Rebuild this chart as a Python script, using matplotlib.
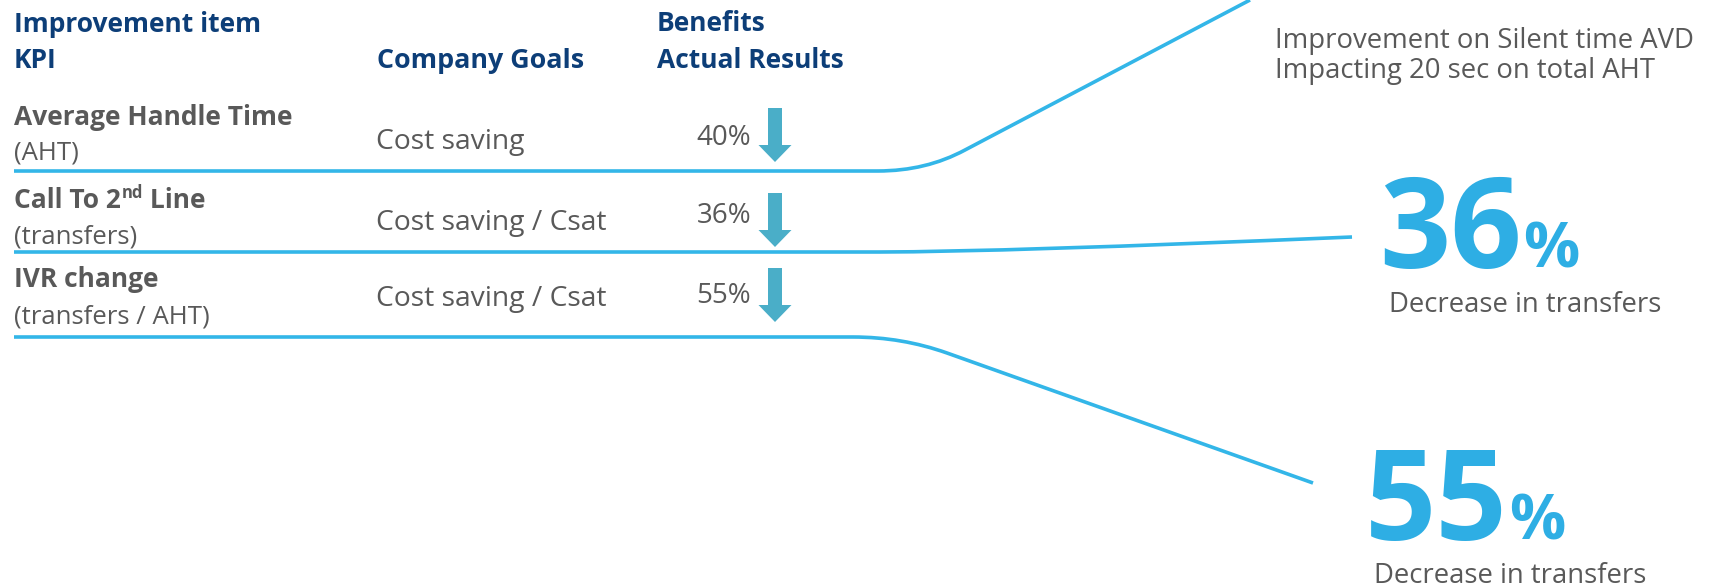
import numpy as np
import matplotlib
matplotlib.use("Agg")
import matplotlib.pyplot as plt
from matplotlib.path import Path
from matplotlib.patches import PathPatch
from matplotlib import font_manager

# ---- data ----
header_kpi = ["Improvement item", "KPI"]
header_goal = "Company Goals"
header_res = ["Benefits", "Actual Results"]
kpi_names = ["Average Handle Time", "Call To 2nd Line", "IVR change"]
kpi_sub = ["(AHT)", "(transfers)", "(transfers / AHT)"]
goals = ["Cost saving", "Cost saving / Csat", "Cost saving / Csat"]
results = [40, 36, 55]
note_lines = ["Improvement on Silent time AVD", "Impacting 20 sec on total AHT"]
big_values = [36, 55]
big_labels = ["Decrease in transfers", "Decrease in transfers"]

# fonts
names = set(f.name for f in font_manager.fontManager.ttflist)
if "Liberation Sans Narrow" in names:
    FONT = "Liberation Sans Narrow"
else:
    FONT = "Open Sans"
plt.rcParams['font.family'] = [FONT, 'DejaVu Sans']

DARK = "#0d3e78"
GRAY = "#595959"
LINE = "#33b6e8"
ARROW = "#4aaec8"
BIG = "#2eaee4"

fig = plt.figure(figsize=(17.2, 5.88), dpi=100)
ax = fig.add_axes([0, 0, 1, 1])
ax.set_xlim(0, 1720)
ax.set_ylim(588, 0)
ax.axis("off")
r = fig.canvas.get_renderer()

# headers
ax.text(14, 32, header_kpi[0], color=DARK, fontsize=19, fontweight="bold", va="baseline")
ax.text(14, 68, header_kpi[1], color=DARK, fontsize=19, fontweight="bold", va="baseline")
ax.text(377, 68, header_goal, color=DARK, fontsize=19.4, fontweight="bold", va="baseline")
ax.text(657, 31, header_res[0], color=DARK, fontsize=19, fontweight="bold", va="baseline")
ax.text(657, 68, header_res[1], color=DARK, fontsize=19, fontweight="bold", va="baseline")

# rows
name_base = [125, 208, 287]
sub_base = [159, 243, 323]
goal_base = [149, 230, 306]
res_base = [145, 223, 303]
arrow_top = [108, 193, 268]
line_y = [171, 252, 337]

for i in range(3):
    nm = kpi_names[i]
    if "2nd" in nm:
        a, b = nm.split("nd", 1)
        t = ax.text(14, name_base[i], a, color=GRAY, fontsize=19, fontweight="bold", va="baseline")
        x1 = t.get_window_extent(r).x1
        t2 = ax.text(x1 + 1, name_base[i] - 10, "nd", color=GRAY, fontsize=12, fontweight="bold", va="baseline")
        x2 = t2.get_window_extent(r).x1
        ax.text(x2, name_base[i], b, color=GRAY, fontsize=19, fontweight="bold", va="baseline")
    else:
        ax.text(14, name_base[i], nm, color=GRAY, fontsize=19, fontweight="bold", va="baseline")
    ax.text(14, sub_base[i], kpi_sub[i], color=GRAY, fontsize=18.5, va="baseline")
    ax.text(376, goal_base[i], goals[i], color=GRAY, fontsize=20.3, va="baseline")
    ax.text(751, res_base[i], "%d%%" % results[i], color=GRAY, fontsize=20, va="baseline", ha="right")
    ax.arrow(775, arrow_top[i], 0, 54, width=14, head_width=33, head_length=17,
             length_includes_head=True, color=ARROW, lw=0)

# connector lines
paths = [
    ([(14, line_y[0]), (878, line_y[0]), (926, line_y[0]), (965, 150), (1250, 0)],
     [Path.MOVETO, Path.LINETO, Path.CURVE3, Path.CURVE3, Path.LINETO]),
    ([(14, line_y[1]), (880, line_y[1]), (1000, line_y[1]), (1352, 237)],
     [Path.MOVETO, Path.LINETO, Path.CURVE3, Path.CURVE3]),
    ([(14, line_y[2]), (853, line_y[2]), (902, line_y[2]), (947, 353), (1313, 483)],
     [Path.MOVETO, Path.LINETO, Path.CURVE3, Path.CURVE3, Path.LINETO]),
]
for verts, codes in paths:
    ax.add_patch(PathPatch(Path(verts, codes), fc="none", ec=LINE, lw=2.6, capstyle="butt"))

# note
ax.text(1275, 48, note_lines[0], color=GRAY, fontsize=19.8, va="baseline")
ax.text(1275, 78, note_lines[1], color=GRAY, fontsize=19.8, va="baseline")

# big numbers
big_x = [1379, 1365]
big_base = [268, 540]
lab_x = [1389, 1374]
lab_base = [312, 583]
for i in range(2):
    t = ax.text(big_x[i], big_base[i], str(big_values[i]), color=BIG, fontsize=90,
                fontweight="bold", va="baseline")
    x1 = t.get_window_extent(r).x1
    ax.text(x1 + 1, big_base[i], "%", color=BIG, fontsize=45, fontweight="bold", va="baseline")
    ax.text(lab_x[i], lab_base[i], big_labels[i], color=GRAY, fontsize=19.8, va="baseline")

fig.savefig("out.png", dpi=100)
